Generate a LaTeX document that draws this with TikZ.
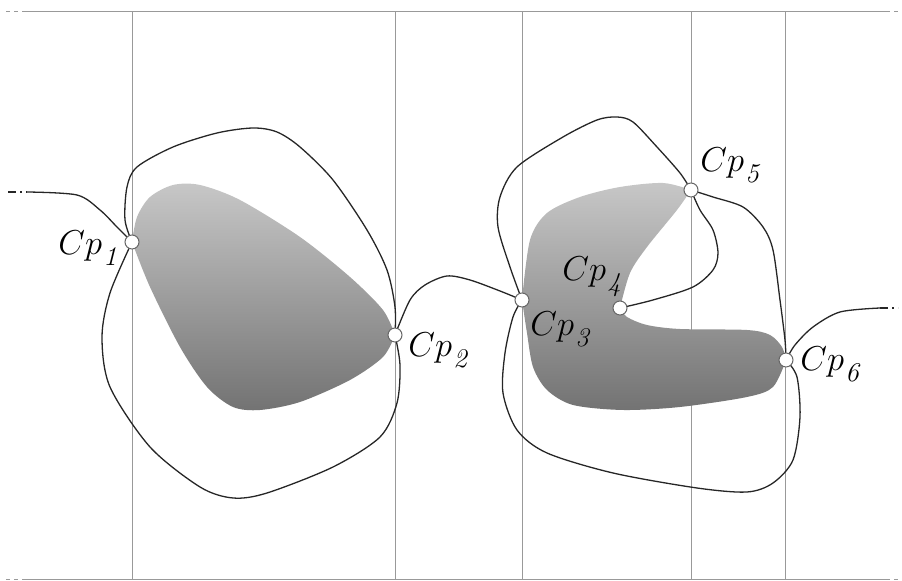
\documentclass[tikz,border=0pt]{standalone}
\begin{document}
\begin{tikzpicture}[x=0.5pt,y=-0.5pt,
  guide/.style={draw=black!40,line width=0.5pt},
  curve/.style={draw=black!85,line width=0.65pt},
  blob/.style={top color=black!22,bottom color=black!55},
  cpdot/.style={circle,fill=white,draw=black!60,line width=0.5pt,minimum size=7pt,inner sep=0pt},
  cplabel/.style={anchor=base west,inner sep=0pt,font=\fontsize{16}{19}\selectfont}]
\useasboundingbox (0,0) rectangle (902,581);
% guide lines
\coordinate (tl) at (25,12); \coordinate (tr) at (886,12);
\coordinate (bl) at (25,580); \coordinate (br) at (886,580);
\draw[guide] (tl) -- (tr);
\draw[guide] (bl) -- (br);
\draw[guide,dash pattern=on 2pt off 2pt] (6,12) -- (tl);
\draw[guide,dash pattern=on 2pt off 2pt] (tr) -- (898,12);
\draw[guide,dash pattern=on 2pt off 2pt] (6,580) -- (bl);
\draw[guide,dash pattern=on 2pt off 2pt] (br) -- (898,580);
\foreach \x in {132,395,522,691,785} \draw[guide] (\x,12) -- (\x,580);
% control points
\coordinate (cp1) at (132,242);
\coordinate (cp2) at (395,335);
\coordinate (cp3) at (522,300);
\coordinate (cp4) at (620,308);
\coordinate (cp5) at (691,190);
\coordinate (cp6) at (786,360);
% left blob
\shade[blob] plot[smooth] coordinates {(cp1) (137,217) (150,197) (173,185) (200,185) (240,200) (300,237) (350,277) (383,310) (cp2)}
  -- plot[smooth] coordinates {(cp2) (383,357) (350,380) (300,402) (260,410) (233,407) (207,387) (180,347) (150,287) (cp1)} -- cycle;
% right blob
\shade[blob] plot[smooth] coordinates {(cp3) (530,240) (547,213) (580,197) (620,187) (663,183) (cp5)}
  -- plot[smooth] coordinates {(cp5) (677,210) (647,247) (630,273) (cp4)}
  -- plot[smooth] coordinates {(cp4) (627,317) (647,325) (680,329) (747,330) (770,335) (782,347) (cp6)}
  -- plot[smooth] coordinates {(cp6) (773,387) (747,397) (680,407) (623,410) (573,405) (547,390) (533,367) (527,333) (cp3)} -- cycle;
% left curves
\draw[curve,dash pattern=on 4pt off 2pt on 1pt off 2pt] (8,192) -- (27,192);
\draw[curve] plot[smooth] coordinates {(27,192) (77,195) (100,210) (117,227) (cp1)};
\draw[curve] plot[smooth] coordinates {(cp1) (125,220) (127,187) (137,167) (173,147) (217,133) (253,128) (277,132) (300,147) (333,180) (367,230) (387,270) (395,307) (cp2)};
\draw[curve] plot[smooth] coordinates {(cp2) (400,365) (397,403) (380,437) (333,467) (267,493) (233,498) (200,487) (150,447) (110,387) (102,337) (110,293) (cp1)};
\draw[curve] plot[smooth] coordinates {(cp2) (410,300) (425,285) (447,276) (470,280) (500,291) (cp3)};
% right curves
\draw[curve] plot[smooth] coordinates {(cp3) (510,267) (498,227) (500,197) (517,167) (563,137) (597,120) (617,117) (633,122) (657,147) (680,173) (cp5)};
\draw[curve] plot[smooth] coordinates {(cp5) (700,210) (713,230) (718,253) (713,270) (693,287) (653,300) (cp4)};
\draw[curve] plot[smooth] coordinates {(cp5) (713,197) (743,207) (763,227) (773,250) (780,300) (785,340) (cp6)};
\draw[curve] plot[smooth] coordinates {(cp6) (797,377) (800,417) (793,460) (773,483) (747,492) (697,488) (613,473) (547,453) (517,430) (503,393) (505,353) (513,317) (cp3)};
\draw[curve] plot[smooth] coordinates {(cp6) (795,345) (813,327) (840,312) (880,308)};
\draw[curve,dash pattern=on 4pt off 2pt on 1pt off 2pt] (880,308) -- (898,308);
% dots
\foreach \p in {cp1,cp2,cp3,cp4,cp5,cp6} \node[cpdot] (n\p) at (\p) {};
% labels
\newcommand{\cpsub}[1]{$Cp$\kern0.6pt\raisebox{-5.5pt}{\fontsize{13.5}{16}\selectfont\itshape #1}}
\node[cplabel] (l1) at (58,255) {\cpsub{1}};
\node[cplabel] (l2) at (408,357) {\cpsub{2}};
\node[cplabel] (l3) at (530,336) {\cpsub{3}};
\node[cplabel] (l4) at (562,281) {\cpsub{4}};
\node[cplabel] (l5) at (700,172) {\cpsub{5}};
\node[cplabel] (l6) at (800,371) {\cpsub{6}};
\end{tikzpicture}
\end{document}
